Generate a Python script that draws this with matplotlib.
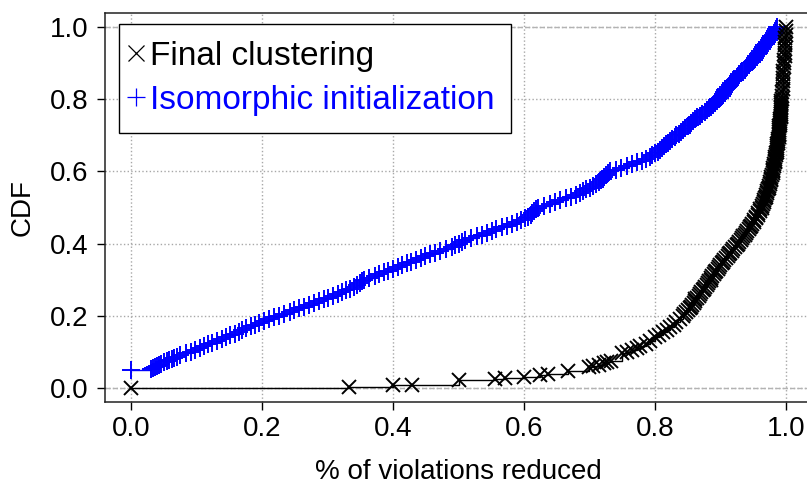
import numpy as np
import matplotlib
matplotlib.use('Agg')
import matplotlib.pyplot as plt
from matplotlib.lines import Line2D

plt.rcParams['font.family'] = ['Liberation Sans', 'DejaVu Sans']

# CDF: Final clustering (x markers)
final_x = [0.000, 0.333, 0.400, 0.429, 0.500, 0.556, 0.571, 0.600, 0.625, 0.636,
           0.667, 0.700, 0.706, 0.714, 0.722, 0.727, 0.733, 0.750, 0.757, 0.765,
           0.773, 0.778, 0.786, 0.792, 0.800, 0.806, 0.812, 0.818, 0.823, 0.829,
           0.833, 0.838,
           0.843, 0.845, 0.848, 0.850, 0.853, 0.855, 0.857, 0.859, 0.861, 0.862,
           0.865, 0.867, 0.869, 0.871, 0.873, 0.875, 0.877, 0.879, 0.881, 0.883,
           0.885, 0.886, 0.888, 0.890, 0.892, 0.894, 0.896, 0.898, 0.900, 0.902,
           0.904, 0.906, 0.909, 0.911, 0.913, 0.915, 0.918, 0.920, 0.922, 0.925,
           0.927, 0.929, 0.931, 0.933, 0.935, 0.937, 0.939, 0.941, 0.943, 0.945,
           0.947, 0.949, 0.951, 0.952, 0.954, 0.955, 0.957, 0.958, 0.960, 0.961,
           0.963, 0.964, 0.965, 0.966, 0.967, 0.968, 0.969, 0.970, 0.971, 0.972,
           0.973, 0.974, 0.975, 0.976, 0.976, 0.977, 0.978, 0.978, 0.979, 0.980,
           0.980, 0.981, 0.981, 0.982, 0.982, 0.983, 0.983, 0.984, 0.984, 0.985,
           0.985, 0.986, 0.986, 0.986, 0.987, 0.987, 0.988, 0.988, 0.988, 0.989,
           0.989, 0.989, 0.990, 0.990, 0.990, 0.990, 0.991, 0.991, 0.991, 0.991,
           0.992, 0.992, 0.992, 0.992, 0.992, 0.993, 0.993, 0.993, 0.993, 0.993,
           0.994, 0.994, 0.994, 0.995, 0.995, 0.995, 0.996, 0.996, 0.996, 0.997,
           0.997, 0.997, 0.998, 0.998, 0.998, 0.999, 0.999, 0.999, 1.000, 1.000,
           1.000]
final_y = [0.000, 0.003, 0.006, 0.008, 0.022, 0.024, 0.027, 0.030, 0.035, 0.037,
           0.046, 0.058, 0.060, 0.063, 0.068, 0.072, 0.075, 0.097, 0.100, 0.105,
           0.110, 0.115, 0.122, 0.128, 0.140, 0.147, 0.153, 0.160, 0.167, 0.175,
           0.182, 0.190,
           0.200, 0.205, 0.210, 0.215, 0.220, 0.225, 0.230, 0.235, 0.240, 0.245,
           0.250, 0.255, 0.260, 0.265, 0.270, 0.275, 0.280, 0.285, 0.290, 0.295,
           0.300, 0.305, 0.310, 0.315, 0.320, 0.325, 0.330, 0.335, 0.340, 0.345,
           0.350, 0.355, 0.360, 0.365, 0.370, 0.375, 0.380, 0.385, 0.390, 0.395,
           0.400, 0.405, 0.410, 0.415, 0.420, 0.425, 0.430, 0.435, 0.440, 0.445,
           0.450, 0.455, 0.460, 0.465, 0.470, 0.475, 0.480, 0.485, 0.490, 0.495,
           0.500, 0.505, 0.510, 0.515, 0.520, 0.525, 0.530, 0.535, 0.540, 0.545,
           0.550, 0.555, 0.560, 0.565, 0.570, 0.575, 0.580, 0.585, 0.590, 0.595,
           0.600, 0.605, 0.610, 0.615, 0.620, 0.625, 0.630, 0.635, 0.640, 0.645,
           0.650, 0.655, 0.660, 0.665, 0.670, 0.675, 0.680, 0.685, 0.690, 0.695,
           0.700, 0.705, 0.710, 0.715, 0.720, 0.725, 0.730, 0.735, 0.740, 0.745,
           0.750, 0.755, 0.760, 0.765, 0.770, 0.775, 0.780, 0.785, 0.790, 0.795,
           0.800, 0.810, 0.820, 0.830, 0.840, 0.850, 0.860, 0.870, 0.880, 0.890,
           0.900, 0.910, 0.920, 0.930, 0.940, 0.950, 0.960, 0.970, 0.980, 0.990,
           1.000]

# Isomorphic initialization (+ markers)
iso_x = [0.000, 0.030, 0.034, 0.037, 0.040, 0.043, 0.046, 0.050, 0.054, 0.058,
         0.063, 0.066, 0.070, 0.075, 0.084, 0.092, 0.098, 0.105, 0.111, 0.118,
         0.124, 0.131, 0.138, 0.145, 0.151, 0.158, 0.164, 0.170, 0.176, 0.183,
         0.189, 0.196, 0.203, 0.210, 0.218, 0.226, 0.234, 0.242, 0.249, 0.256,
         0.264, 0.272, 0.280, 0.287, 0.294, 0.301, 0.309, 0.316, 0.322, 0.328,
         0.334, 0.340, 0.345, 0.350, 0.353, 0.356, 0.364, 0.372, 0.379, 0.386,
         0.393, 0.400, 0.407, 0.414, 0.421, 0.428, 0.435, 0.442, 0.449, 0.456,
         0.464, 0.472, 0.481, 0.490, 0.495, 0.500, 0.505, 0.510, 0.519, 0.528,
         0.536, 0.544, 0.551, 0.558, 0.566, 0.574, 0.582, 0.590, 0.596, 0.602,
         0.606, 0.610, 0.613, 0.616, 0.619, 0.622, 0.631, 0.640, 0.648, 0.655,
         0.664, 0.672, 0.679, 0.685, 0.690, 0.695, 0.701, 0.706, 0.710, 0.714,
         0.717, 0.720, 0.723, 0.725, 0.728, 0.732, 0.740, 0.748, 0.757, 0.765,
         0.773, 0.780, 0.786, 0.792, 0.796, 0.800, 0.804, 0.808, 0.811, 0.814,
         0.817, 0.820, 0.823, 0.826, 0.830, 0.833, 0.837, 0.840, 0.843, 0.846,
         0.850, 0.853, 0.855, 0.858, 0.862, 0.865, 0.869, 0.872, 0.876, 0.879,
         0.883, 0.886, 0.889, 0.892, 0.895, 0.897, 0.900, 0.902, 0.904, 0.906,
         0.907, 0.909, 0.911, 0.914, 0.917, 0.920, 0.923, 0.925, 0.927, 0.929,
         0.931, 0.933, 0.937, 0.940, 0.943, 0.946, 0.949, 0.951, 0.953, 0.955,
         0.957, 0.959, 0.961, 0.963, 0.965, 0.967, 0.970, 0.972, 0.974, 0.976,
         0.978, 0.980, 0.982, 0.983, 0.985, 0.986]
iso_y = [0.050, 0.052, 0.055, 0.058, 0.060, 0.063, 0.066, 0.070, 0.073, 0.076,
         0.080, 0.083, 0.086, 0.090, 0.095, 0.100, 0.105, 0.110, 0.115, 0.120,
         0.125, 0.130, 0.135, 0.140, 0.145, 0.150, 0.155, 0.160, 0.165, 0.170,
         0.175, 0.180, 0.185, 0.190, 0.195, 0.200, 0.205, 0.210, 0.215, 0.220,
         0.225, 0.230, 0.235, 0.240, 0.245, 0.250, 0.255, 0.260, 0.265, 0.270,
         0.275, 0.280, 0.285, 0.290, 0.295, 0.300, 0.305, 0.310, 0.315, 0.320,
         0.325, 0.330, 0.335, 0.340, 0.345, 0.350, 0.355, 0.360, 0.365, 0.370,
         0.375, 0.380, 0.385, 0.390, 0.395, 0.400, 0.405, 0.410, 0.415, 0.420,
         0.425, 0.430, 0.435, 0.440, 0.445, 0.450, 0.455, 0.460, 0.465, 0.470,
         0.475, 0.480, 0.485, 0.490, 0.495, 0.500, 0.505, 0.510, 0.515, 0.520,
         0.525, 0.530, 0.535, 0.540, 0.545, 0.550, 0.555, 0.560, 0.565, 0.570,
         0.575, 0.580, 0.585, 0.590, 0.595, 0.600, 0.605, 0.610, 0.615, 0.620,
         0.625, 0.630, 0.635, 0.640, 0.645, 0.650, 0.655, 0.660, 0.665, 0.670,
         0.675, 0.680, 0.685, 0.690, 0.695, 0.700, 0.705, 0.710, 0.715, 0.720,
         0.725, 0.730, 0.735, 0.740, 0.745, 0.750, 0.755, 0.760, 0.765, 0.770,
         0.775, 0.780, 0.785, 0.790, 0.795, 0.800, 0.805, 0.810, 0.815, 0.820,
         0.825, 0.830, 0.835, 0.840, 0.845, 0.850, 0.855, 0.860, 0.865, 0.870,
         0.875, 0.880, 0.885, 0.890, 0.895, 0.900, 0.905, 0.910, 0.915, 0.920,
         0.925, 0.930, 0.935, 0.940, 0.945, 0.950, 0.955, 0.960, 0.965, 0.970,
         0.975, 0.980, 0.985, 0.990, 0.995, 1.000]

ticks = [0.0, 0.2, 0.4, 0.6, 0.8, 1.0]
tick_labels = ['0.0', '0.2', '0.4', '0.6', '0.8', '1.0']

fig = plt.figure(figsize=(8.07, 4.87), dpi=100)
ax = fig.add_axes([105 / 807, 85 / 487, 707 / 807, 389 / 487])

ax.set_xlim(-0.04, 1.04)
ax.set_ylim(-0.04, 1.04)

# grid like R's grid(): light dotted
for t in ticks:
    ax.axvline(t, color='#a8a8a8', linestyle=':', linewidth=1.0, zorder=0)
    ax.axhline(t, color='#a8a8a8', linestyle=':', linewidth=1.0, zorder=0)
# dashed 0 / 1 lines of plot.ecdf
ax.axhline(0, color='#b3b3b3', linestyle='--', linewidth=1.0, zorder=1)
ax.axhline(1, color='#b3b3b3', linestyle='--', linewidth=1.0, zorder=1)

ax.plot(iso_x, iso_y, drawstyle='steps-post', color='blue', linewidth=1.0,
        marker='+', markersize=12.5, markeredgewidth=1.4, zorder=2)
ax.plot(final_x, final_y, drawstyle='steps-post', color='black', linewidth=1.0,
        marker='x', markersize=10, markeredgewidth=1.4, zorder=3)

ax.set_xticks(ticks)
ax.set_xticklabels(tick_labels)
ax.set_yticks(ticks)
ax.set_yticklabels(tick_labels)
ax.tick_params(direction='out', length=6, width=1, labelsize=20, pad=4)
ax.tick_params(axis='y', pad=6)
for s in ax.spines.values():
    s.set_linewidth(1.1)
    s.set_color('#222222')

ax.set_xlabel('% of violations reduced', fontsize=20, labelpad=12)
ax.set_ylabel('CDF', fontsize=20, labelpad=10)

handles = [Line2D([], [], color='black', marker='x', linestyle='none', markersize=11, markeredgewidth=0.9),
           Line2D([], [], color='blue', marker='+', linestyle='none', markersize=13, markeredgewidth=0.9)]
leg = ax.legend(handles, ['Final clustering', 'Isomorphic initialization'],
                loc='upper left', bbox_to_anchor=(119 / 807, 1 - 24 / 487),
                bbox_transform=fig.transFigure, fontsize=24, frameon=True,
                fancybox=False, framealpha=1, edgecolor='black', borderaxespad=0,
                handlelength=0.0, handletextpad=0.42, borderpad=0.5, labelspacing=0.4)
leg.get_frame().set_linewidth(1.0)
leg.get_texts()[1].set_color('blue')

fig.savefig('out.png', dpi=100)
